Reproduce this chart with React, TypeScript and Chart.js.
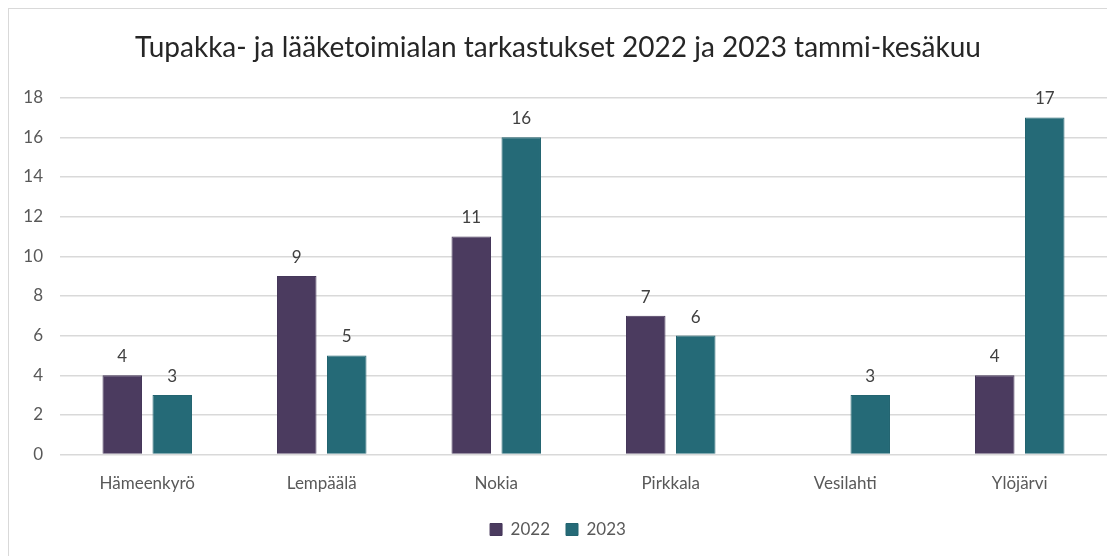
import React, { useEffect, useRef } from "react";
import { Chart, registerables } from "chart.js";

Chart.register(...registerables);

const categories = ["Hämeenkyrö", "Lempäälä", "Nokia", "Pirkkala", "Vesilahti", "Ylöjärvi"];
const values2022: (number | null)[] = [4, 9, 11, 7, null, 4];
const values2023: (number | null)[] = [3, 5, 16, 6, 3, 17];
const seriesNames = ["2022", "2023"];
const titleText = "Tupakka- ja lääketoimialan tarkastukset 2022 ja 2023 tammi-kesäkuu";

const FONT = "Lato, 'Open Sans', sans-serif";

const valueLabels = {
  id: "valueLabels",
  afterDatasetsDraw(chart: any) {
    const ctx = chart.ctx;
    ctx.save();
    ctx.font = `17px ${FONT}`;
    ctx.fillStyle = "#404040";
    ctx.textAlign = "center";
    ctx.textBaseline = "bottom";
    chart.data.datasets.forEach((ds: any, i: number) => {
      const meta = chart.getDatasetMeta(i);
      meta.data.forEach((bar: any, j: number) => {
        const v = ds.data[j];
        if (v === null || v === undefined) return;
        ctx.fillText(String(v), bar.x, bar.y - 10);
      });
    });
    ctx.restore();
  },
};

export default function App() {
  const ref = useRef<HTMLCanvasElement | null>(null);
  useEffect(() => {
    if (!ref.current) return;
    const chart = new Chart(ref.current, {
      type: "bar",
      data: {
        labels: categories,
        datasets: [
          {
            label: seriesNames[0],
            data: values2022,
            backgroundColor: "#4b3b5f",
            borderColor: "#45375a",
            borderWidth: 1,
          },
          {
            label: seriesNames[1],
            data: values2023,
            backgroundColor: "#256a77",
            borderColor: "#236470",
            borderWidth: 1,
          },
        ],
      },
      options: {
        animation: false,
        responsive: false,
        maintainAspectRatio: false,
        datasets: {
          bar: { barPercentage: 0.79, categoryPercentage: 0.573 },
        },
        layout: { padding: { left: 0, right: 8, top: 0, bottom: 8 } },
        plugins: {
          title: {
            display: true,
            text: titleText,
            color: "#262626",
            font: { family: FONT, size: 28, weight: "normal" },
            padding: { top: 22, bottom: 33 },
          },
          legend: {
            position: "bottom",
            labels: {
              color: "#595959",
              font: { family: FONT, size: 17 },
              boxWidth: 12,
              boxHeight: 12,
              padding: 16,
            },
          },
          tooltip: { enabled: false },
        },
        scales: {
          x: {
            grid: { display: false },
            border: { display: false },
            ticks: { color: "#595959", font: { family: FONT, size: 17 }, padding: 11 },
          },
          y: {
            min: 0,
            max: 18,
            ticks: { stepSize: 2, color: "#595959", font: { family: FONT, size: 17 }, padding: 17 },
            grid: { color: "#d9d9d9", lineWidth: 1.5, drawTicks: false },
            border: { display: false },
            afterFit(scale: any) {
              scale.width = 51;
            },
          },
        },
      },
      plugins: [valueLabels],
    });
    return () => chart.destroy();
  }, []);
  return (
    <div
      style={{
        width: 1107,
        height: 548,
        borderLeft: "1px solid #d9d9d9",
        borderTop: "1px solid #d9d9d9",
        boxSizing: "border-box",
        overflow: "hidden",
      }}
    >
      <canvas ref={ref} width={1106} height={547} style={{ display: "block" }} />
    </div>
  );
}
